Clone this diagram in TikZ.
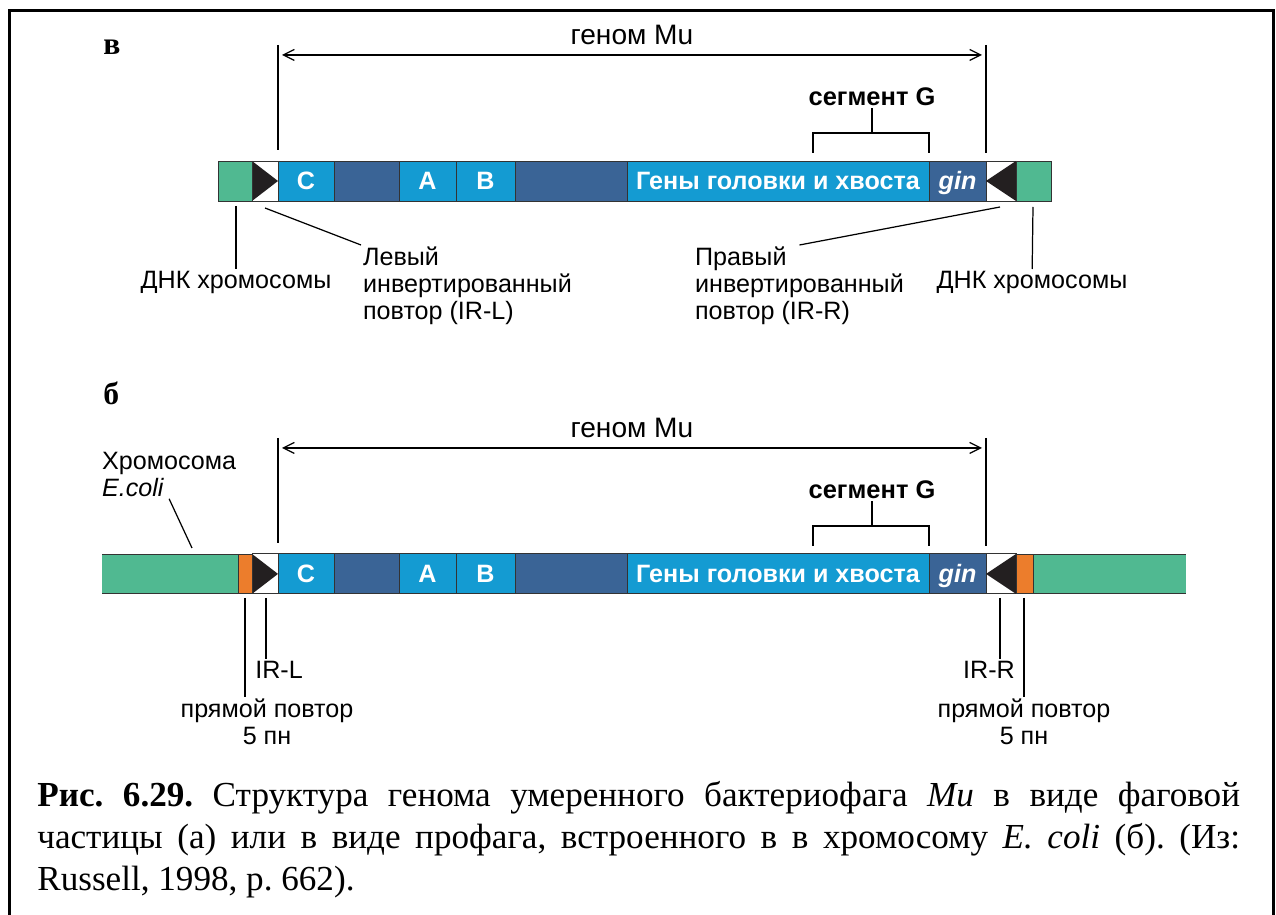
\documentclass[tikz,border=0pt]{standalone}
\usepackage{fontspec}
\setmainfont{Liberation Serif}
\setsansfont{Liberation Sans}
\usetikzlibrary{arrows.meta}

\definecolor{chrgreen}{RGB}{80,185,145}
\definecolor{mulight}{RGB}{20,155,210}
\definecolor{mudark}{RGB}{58,100,150}
\definecolor{reporange}{RGB}{236,125,44}
\definecolor{irblack}{RGB}{35,31,32}

% parts shared by both panels (bar top at y=161)
\newcommand{\mugenome}{%
% genome borders and arrow
\draw[ptr] (278,45) -- (278,150);
\draw[ptr] (986,45) -- (986,153);
\coordinate (gl) at (282,55);
\coordinate (gr) at (982,55);
\draw[ptr,<->] (gl) -- (gr);
\node[lab,font=\sffamily\fontsize{16}{18}\selectfont] (gname) at (632,35) {геном Mu};
% segment G
\node[lab,font=\sffamily\bfseries\fontsize{14.5}{16}\selectfont] (segG) at (872,97) {сегмент G};
\draw[ptr] (813,153) -- (813,133) -- (929,133) -- (929,153);
\coordinate (segGm) at (872,133);
\draw[ptr] (segGm) -- (segG);
% phage genes
\foreach \xa/\xb/\col/\txt in {278/334/mulight/C, 334/399/mudark/, 399/456/mulight/A,
  456/515/mulight/B, 515/627/mudark/, 627/929/mulight/{Гены головки и хвоста}}{
  \draw[seg,fill=\col] (\xa,161) rectangle (\xb,201);
  \node[gene] at ({(\xa+\xb)/2},181) {\txt};
}
\draw[seg,fill=mudark] (929,161) rectangle (986,201);
\node[gene,font=\sffamily\bfseries\itshape\fontsize{14.3}{16}\selectfont] at (957.5,181) {gin};
% inverted repeats
\draw[seg,fill=white] (252,161) rectangle (278,201);
\fill[irblack] (252,161) -- (278,181) -- (252,201) -- cycle;
\draw[seg,fill=white] (986,161) rectangle (1016,201);
\fill[irblack] (1016,161) -- (986,181) -- (1016,201) -- cycle;
}
% caption lines stretched to the full width
\newcommand{\capline}[1]{\makebox[24.06cm][s]{#1}}

\begin{document}
\begin{tikzpicture}[x=0.02cm,y=-0.02cm,
lab/.style={font=\sffamily\fontsize{14.3}{15.4}\selectfont,inner sep=1pt},
gene/.style={text=white,font=\sffamily\bfseries\fontsize{14.3}{16}\selectfont,text height=10.2pt,text depth=0pt,inner sep=0pt},
seg/.style={draw=black!80,line width=0.5pt},
ptr/.style={line width=0.7pt,>={Straight Barb[length=2.2mm,width=2.2mm]}},
capt/.style={anchor=north west,inner sep=0pt,align=left,
  font=\fontsize{20}{24}\selectfont\frenchspacing},
panel/.style={font=\bfseries\fontsize{18}{18}\selectfont,anchor=base west,inner sep=0pt}]
\useasboundingbox (0,0) rectangle (1276,915);
% frame
\draw[line width=1.7pt] (9.5,915) -- (9.5,10.5) -- (1273.5,10.5) -- (1273.5,915);

% panel a
\node[panel] (pa) at (103,55) {в};
\begin{scope}[name prefix=a-]
\mugenome
\end{scope}
\draw[seg,fill=chrgreen] (218,161) rectangle (252,201);
\draw[seg,fill=chrgreen] (1016,161) rectangle (1051,201);
\coordinate (dnkl) at (236,206);
\coordinate (irl) at (265,208);
\coordinate (irr) at (1000,207);
\coordinate (dnkr) at (1033,207);
\node[lab,anchor=north] (dnkL) at (236,269) {ДНК хромосомы};
\node[lab,anchor=north west,align=left] (irLlab) at (361,245) {Левый\\инвертированный\\повтор (IR-L)};
\node[lab,anchor=north west,align=left] (irRlab) at (693,245) {Правый\\инвертированный\\повтор (IR-R)};
\node[lab,anchor=north] (dnkR) at (1032,269) {ДНК хромосомы};
\draw[ptr] (dnkl) -- (dnkL);
\draw[ptr] (irl) -- (irLlab.north west);
\draw[ptr] (irr) -- (irRlab.north);
\draw[ptr] (dnkr) -- (dnkR);

% panel b
\node[panel] (pb) at (103,405) {б};
\begin{scope}[yshift=-7.86cm,name prefix=b-]
\mugenome
\end{scope}
% E. coli chromosome
\fill[chrgreen] (102,554) rectangle (238,593);
\draw[seg] (102,554) -- (238,554) (102,593) -- (238,593);
\fill[chrgreen] (1033,554) rectangle (1186,593);
\draw[seg] (1033,554) -- (1186,554) (1033,593) -- (1186,593);
% direct repeats
\draw[seg,fill=reporange] (238,554) rectangle (252,593);
\draw[seg,fill=reporange] (1016,554) rectangle (1033,593);
\node[lab,anchor=north west,align=left] (ecoli) at (100,450) {Хромосома\\\textit{E.coli}};
\coordinate (chr) at (192,548);
\draw[ptr] (ecoli.south) -- (chr);
\coordinate (rpl) at (245,598);
\coordinate (irlb) at (266,598);
\coordinate (irrb) at (1000,598);
\coordinate (rpr) at (1024,598);
\node[lab,anchor=north] (irLt) at (279,659) {IR-L};
\node[lab,anchor=north] (irRt) at (989,659) {IR-R};
\node[lab,anchor=north,align=center] (rpLt) at (267,697) {прямой повтор\\5 пн};
\node[lab,anchor=north,align=center] (rpRt) at (1024,697) {прямой повтор\\5 пн};
\draw[ptr] (irlb) -- (irlb |- irLt.north);
\draw[ptr] (rpl) -- (rpl |- rpLt.north);
\draw[ptr] (irrb) -- (irrb |- irRt.north);
\draw[ptr] (rpr) -- (rpr |- rpRt.north);

% caption
\node[capt] (cap) at (37,781) {\capline{\textbf{Рис. 6.29.} Структура генома умеренного бактериофага \textit{Mu} в виде фаговой}\\
\capline{частицы (а) или в виде профага, встроенного в в хромосому \textit{E. coli} (б). (Из:}\\
Russell, 1998, p. 662).};
\end{tikzpicture}
\end{document}
